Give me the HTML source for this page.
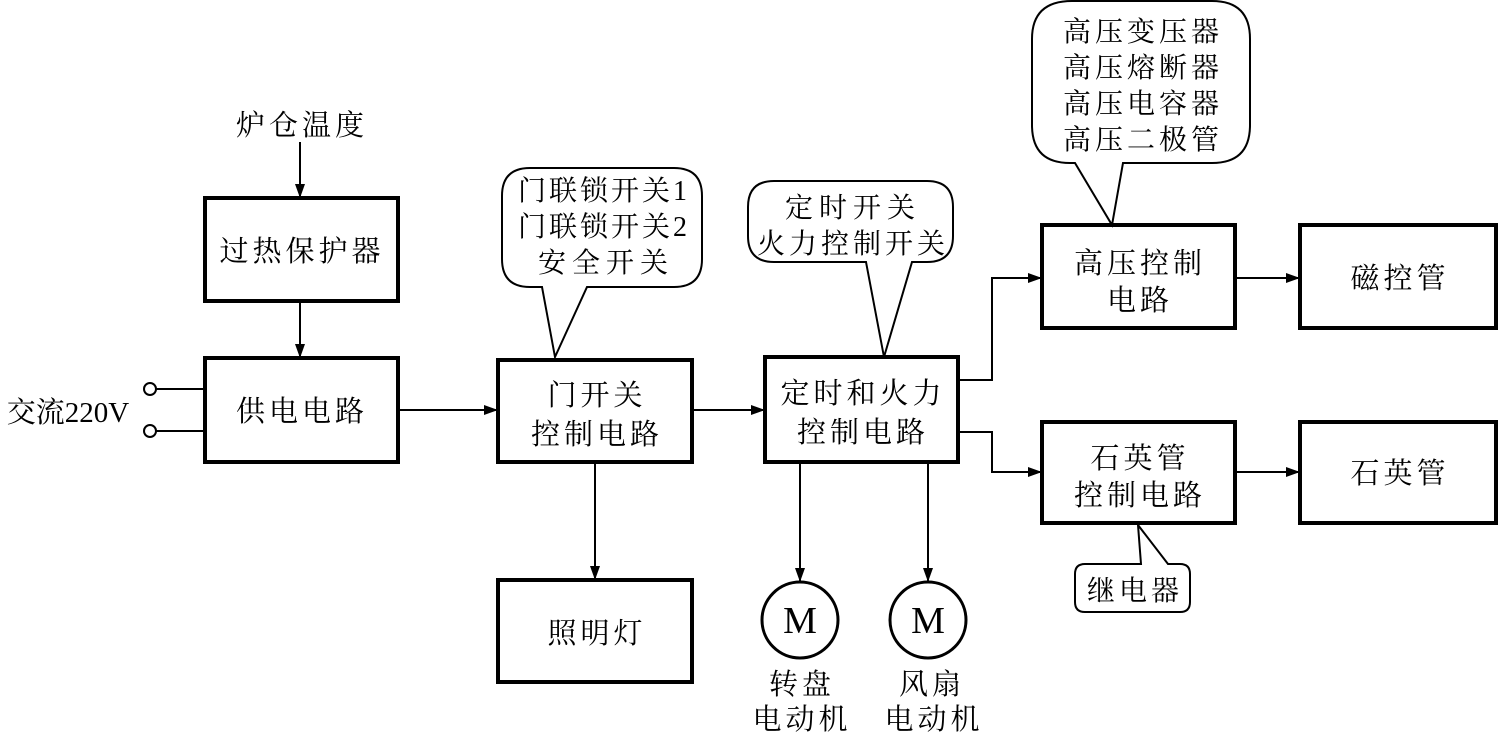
<!DOCTYPE html>
<html><head><meta charset="utf-8"><style>
html,body{margin:0;padding:0;background:#fff}
text{font-family:"Liberation Serif","Noto Serif CJK SC","Noto Sans CJK SC",serif;fill:#000;text-anchor:middle}
</style></head><body>
<svg width="1498" height="735" viewBox="0 0 1498 735" xmlns="http://www.w3.org/2000/svg">
<defs><marker id="a" markerWidth="14" markerHeight="10" refX="13" refY="5" orient="auto" markerUnits="userSpaceOnUse"><path d="M0,0 L14,5 L0,10 Z" fill="#000"/></marker></defs>
<g fill="none" stroke="#000" stroke-width="4">
<rect x="205" y="198" width="193" height="103"/>
<rect x="205" y="358" width="193" height="104"/>
<rect x="498" y="360" width="194" height="102"/>
<rect x="765" y="357" width="193" height="105"/>
<rect x="1042" y="225" width="193" height="103"/>
<rect x="1300" y="225" width="196" height="103"/>
<rect x="1042" y="422" width="193" height="101"/>
<rect x="1300" y="422" width="196" height="101"/>
<rect x="498" y="580" width="194" height="102"/>
</g>
<g fill="none" stroke="#000" stroke-width="3">
<circle cx="800" cy="620" r="38"/><circle cx="928" cy="620" r="38"/>
</g>
<g fill="#fff" stroke="#000" stroke-width="2">
<path d="M530,168 H674 Q702,168 702,196 V259 Q702,287 674,287 H587 L555,357 L542,287 H530 Q502,287 502,259 V196 Q502,168 530,168 Z"/>
<path d="M774,181 H927 Q953,181 953,207 V236 Q953,262 927,262 H912 L884,357 L866,262 H774 Q748,262 748,236 V207 Q748,181 774,181 Z"/>
<path d="M1072,1 H1212 Q1250,1 1250,39 V125 Q1250,163 1212,163 H1123 L1112,225 L1075,163 H1070 Q1032,163 1032,125 V39 Q1032,1 1072,1 Z"/>
<path d="M1138,525 L1168,564 H1180 Q1190,564 1190,574 V602 Q1190,612 1180,612 H1085 Q1075,612 1075,602 V574 Q1075,564 1085,564 H1141 Z"/>
<circle cx="150" cy="389" r="6"/><circle cx="150" cy="431" r="6"/>
</g>
<g fill="none" stroke="#000" stroke-width="2">
<line x1="300" y1="142" x2="300" y2="197" marker-end="url(#a)"/>
<line x1="300" y1="302" x2="300" y2="357" marker-end="url(#a)"/>
<line x1="156" y1="389" x2="205" y2="389"/><line x1="156" y1="431" x2="205" y2="431"/>
<line x1="398" y1="410" x2="497" y2="410" marker-end="url(#a)"/>
<line x1="692" y1="410" x2="764" y2="410" marker-end="url(#a)"/>
<line x1="595" y1="462" x2="595" y2="579" marker-end="url(#a)"/>
<line x1="800" y1="462" x2="800" y2="581" marker-end="url(#a)"/>
<line x1="928" y1="462" x2="928" y2="581" marker-end="url(#a)"/>
<polyline points="958,380 992,380 992,278 1041,278" marker-end="url(#a)"/>
<polyline points="958,432 992,432 992,472 1041,472" marker-end="url(#a)"/>
<line x1="1235" y1="278" x2="1299" y2="278" marker-end="url(#a)"/>
<line x1="1235" y1="472" x2="1299" y2="472" marker-end="url(#a)"/>
</g>
<g font-size="29" letter-spacing="4">
<text x="302" y="135">炉仓温度</text>
<text x="302" y="261">过热保护器</text>
<text x="302" y="421">供电电路</text>
<text x="68" y="422" letter-spacing="0">交流220V</text>
<text x="597" y="405">门开关</text><text x="597" y="444">控制电路</text>
<text x="863" y="403">定时和火力</text><text x="863" y="442">控制电路</text>
<text x="1140" y="273">高压控制</text><text x="1140" y="310">电路</text>
<text x="1400" y="288">磁控管</text>
<text x="1140" y="468">石英管</text><text x="1140" y="505">控制电路</text>
<text x="1400" y="483">石英管</text>
<text x="597" y="643">照明灯</text>
<text x="802" y="694">转盘</text><text x="802" y="729">电动机</text>
<text x="932" y="694">风扇</text><text x="934" y="729">电动机</text>
</g>
<g font-size="38"><text x="800" y="633">M</text><text x="928" y="633">M</text></g>
<g font-size="28" letter-spacing="4">
<text x="604" y="200" letter-spacing="3">门联锁开关1</text><text x="604" y="236" letter-spacing="3">门联锁开关2</text><text x="606" y="272" letter-spacing="6">安全开关</text>
<text x="853" y="217" letter-spacing="6">定时开关</text><text x="853" y="253">火力控制开关</text>
<text x="1143" y="41">高压变压器</text><text x="1143" y="77">高压熔断器</text><text x="1143" y="113">高压电容器</text><text x="1143" y="149">高压二极管</text>
<text x="1135" y="600">继电器</text>
</g>
</svg>
</body></html>
